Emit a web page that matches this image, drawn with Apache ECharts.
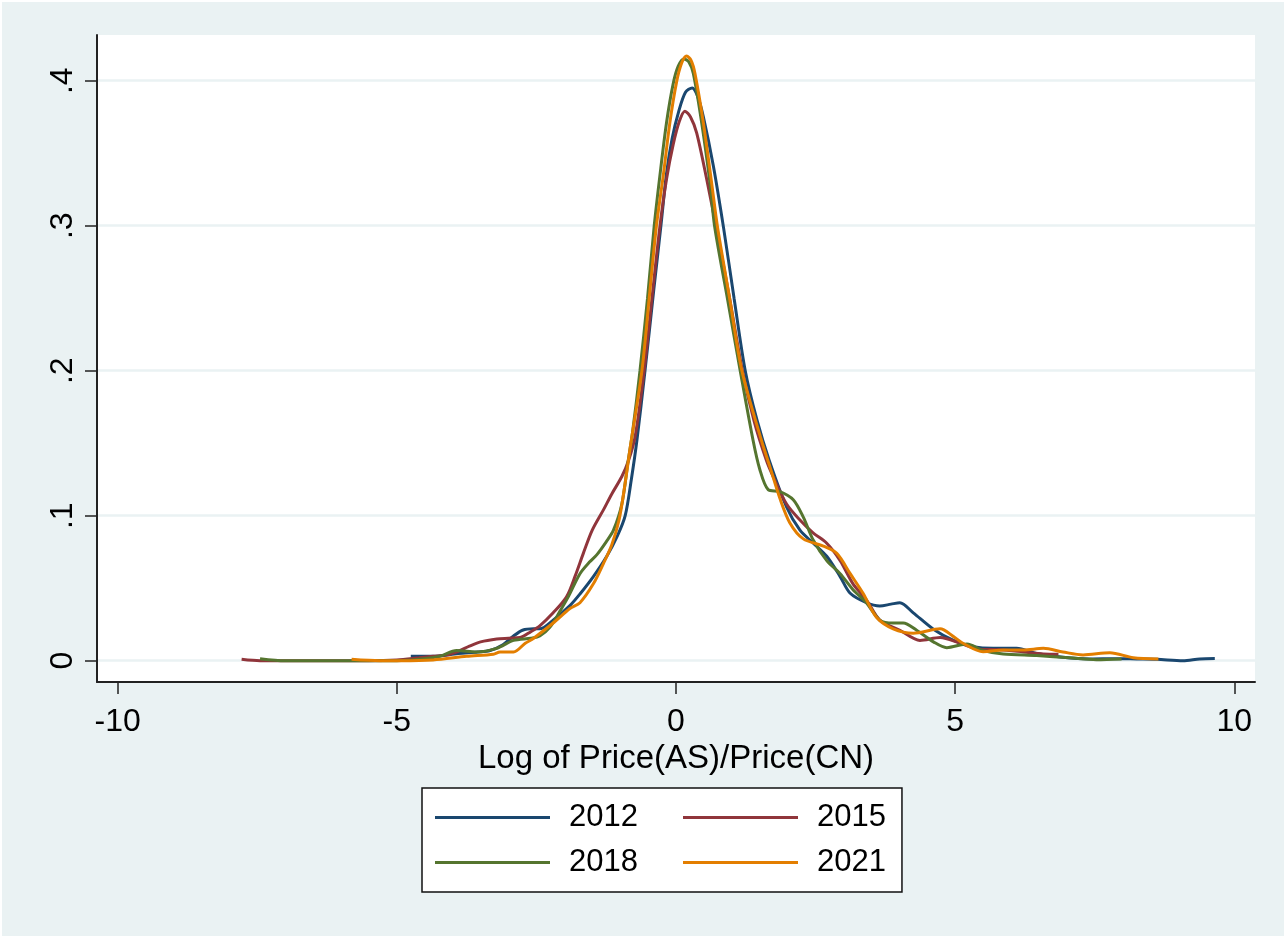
<!DOCTYPE html>
<html>
<head>
<meta charset="utf-8">
<script src="https://cdn.jsdelivr.net/npm/echarts@6/dist/echarts.min.js"></script>
<style>
html,body{margin:0;padding:0;background:#fff;}
#wrap{position:relative;width:1286px;height:938px;}
#chart{width:1286px;height:938px;}
#edge{position:absolute;left:0;top:0;width:1286px;height:938px;border:2px solid #fff;box-sizing:border-box;pointer-events:none;}
</style>
</head>
<body>
<div id="wrap"><div id="chart"></div><div id="edge"></div></div>
<script>
const years = ['2012', '2015', '2018', '2021'];
const xTicks = [-10, -5, 0, 5, 10];
const yTicks = [0, 0.1, 0.2, 0.3, 0.4];
const xTitle = 'Log of Price(AS)/Price(CN)';

const d2012 = [[-4.75,0.003],[-4.35,0.003],[-3.9,0.005],[-3.55,0.006],[-3.33,0.007],[-3.1,0.011],[-2.91,0.017],[-2.75,0.021],[-2.55,0.022],[-2.44,0.022],[-2.2,0.028],[-1.9,0.038],[-1.72,0.046],[-1.48,0.058],[-1.24,0.072],[-1.05,0.086],[-0.91,0.1],[-0.8,0.125],[-0.7,0.152],[-0.555,0.2],[-0.4,0.255],[-0.27,0.3],[-0.17,0.336],[-0.07,0.36],[0.05,0.379],[0.17,0.392],[0.29,0.395],[0.39,0.389],[0.49,0.375],[0.67,0.341],[0.85,0.299],[1.04,0.25],[1.24,0.2],[1.45,0.166],[1.67,0.138],[1.98,0.106],[2.22,0.09],[2.46,0.081],[2.7,0.072],[2.94,0.058],[3.12,0.0465],[3.41,0.04],[3.65,0.0377],[3.85,0.039],[4.01,0.04],[4.25,0.033],[4.61,0.0217],[4.97,0.014],[5.32,0.0097],[5.68,0.0085],[6.1,0.0085],[6.46,0.005],[6.93,0.0023],[7.41,0.0012],[7.89,0.0014],[8.25,0.0012],[8.61,0.001],[9.08,0.0],[9.38,0.0012],[9.65,0.0015]];

const d2015 = [[-7.78,0.001],[-7.45,0.0],[-7.0,0.0],[-6.5,0.0],[-6.0,0.0],[-5.5,0.0],[-5.0,0.0005],[-4.6,0.002],[-4.35,0.003],[-4.1,0.004],[-3.9,0.0065],[-3.7,0.01],[-3.5,0.013],[-3.21,0.015],[-3.0,0.0155],[-2.79,0.016],[-2.6,0.02],[-2.44,0.024],[-2.2,0.033],[-1.96,0.044],[-1.8,0.059],[-1.66,0.074],[-1.5,0.09],[-1.3,0.104],[-1.15,0.115],[-0.97,0.127],[-0.85,0.138],[-0.73,0.155],[-0.57,0.2],[-0.43,0.25],[-0.29,0.299],[-0.17,0.332],[-0.05,0.356],[0.06,0.372],[0.16,0.379],[0.26,0.375],[0.37,0.364],[0.55,0.332],[0.73,0.297],[0.96,0.25],[1.19,0.2],[1.4,0.165],[1.62,0.138],[1.74,0.127],[1.98,0.108],[2.22,0.097],[2.46,0.088],[2.7,0.081],[2.94,0.069],[3.17,0.053],[3.41,0.042],[3.65,0.028],[4.01,0.021],[4.37,0.014],[4.73,0.016],[5.09,0.012],[5.44,0.0079],[5.8,0.0075],[6.22,0.006],[6.58,0.0046],[6.85,0.0044]];

const d2018 = [[-7.45,0.0014],[-7.0,0.0],[-6.5,0.0],[-6.0,0.0],[-5.5,0.0],[-5.0,0.0],[-4.6,0.001],[-4.23,0.003],[-3.93,0.007],[-3.57,0.006],[-3.21,0.0085],[-2.91,0.014],[-2.6,0.0155],[-2.44,0.017],[-2.26,0.023],[-2.08,0.034],[-1.93,0.044],[-1.72,0.06],[-1.55,0.068],[-1.42,0.073],[-1.25,0.082],[-1.12,0.09],[-0.97,0.108],[-0.86,0.137],[-0.78,0.157],[-0.645,0.2],[-0.51,0.25],[-0.39,0.3],[-0.29,0.334],[-0.17,0.371],[-0.05,0.398],[0.04,0.41],[0.14,0.415],[0.23,0.413],[0.31,0.405],[0.46,0.371],[0.61,0.329],[0.69,0.3],[0.92,0.25],[1.15,0.2],[1.38,0.152],[1.5,0.132],[1.65,0.118],[1.86,0.1166],[2.1,0.111],[2.28,0.099],[2.46,0.083],[2.7,0.069],[2.94,0.06],[3.17,0.049],[3.41,0.04],[3.65,0.028],[3.89,0.026],[4.07,0.026],[4.31,0.021],[4.61,0.013],[4.85,0.009],[5.21,0.0115],[5.5,0.007],[5.86,0.0046],[6.46,0.0035],[7.05,0.002],[7.53,0.0007],[7.98,0.0012]];

const d2021 = [[-5.81,0.001],[-5.3,0.0],[-4.94,0.0],[-4.35,0.0005],[-3.75,0.003],[-3.27,0.0045],[-3.15,0.006],[-2.91,0.006],[-2.7,0.012],[-2.55,0.0155],[-2.2,0.026],[-1.9,0.036],[-1.72,0.04],[-1.48,0.053],[-1.3,0.067],[-1.15,0.08],[-1.02,0.097],[-0.92,0.12],[-0.82,0.147],[-0.61,0.2],[-0.48,0.25],[-0.35,0.3],[-0.23,0.334],[-0.11,0.371],[0.01,0.399],[0.1,0.412],[0.19,0.417],[0.27,0.414],[0.34,0.405],[0.49,0.371],[0.64,0.329],[0.74,0.3],[0.96,0.25],[1.18,0.2],[1.53,0.152],[1.68,0.134],[1.86,0.112],[2.04,0.095],[2.28,0.084],[2.64,0.079],[2.88,0.074],[3.12,0.06],[3.35,0.0465],[3.59,0.03],[3.89,0.022],[4.25,0.019],[4.73,0.022],[4.97,0.0166],[5.14,0.012],[5.5,0.0062],[5.86,0.0074],[6.22,0.0074],[6.58,0.0085],[6.93,0.006],[7.29,0.004],[7.77,0.0055],[8.19,0.002],[8.64,0.0012]];

const seriesData = [d2012, d2015, d2018, d2021];
const colors = ['#1a476f', '#90353b', '#55752f', '#e37e00'];
const FONT = '"Liberation Sans", Arial, sans-serif';

const chart = echarts.init(document.getElementById('chart'), null, {renderer: 'canvas'});
chart.setOption({
  backgroundColor: '#eaf2f3',
  animation: false,
  textStyle: {fontFamily: FONT, color: '#000'},
  grid: {left: 97, top: 35, width: 1158, height: 647, show: true, backgroundColor: '#ffffff', borderWidth: 0, containLabel: false},
  xAxis: {
    type: 'value', min: -10.37, max: 10.37,
    name: xTitle, nameLocation: 'middle', nameGap: 48,
    nameTextStyle: {fontSize: 33, color: '#000', fontFamily: FONT},
    axisLine: {show: true, onZero: false, lineStyle: {color: '#222', width: 2}},
    axisTick: {show: true, length: 12, customValues: xTicks, lineStyle: {color: '#222', width: 1.5}},
    axisLabel: {show: true, customValues: xTicks, margin: 24, fontSize: 32, color: '#000', fontFamily: FONT},
    splitLine: {show: false}
  },
  yAxis: {
    type: 'value', min: -0.0147, max: 0.4315,
    axisLine: {show: true, onZero: false, lineStyle: {color: '#222', width: 2}},
    axisTick: {show: true, length: 12, customValues: yTicks, lineStyle: {color: '#222', width: 1.5}},
    axisLabel: {show: true, customValues: yTicks, rotate: 90, margin: 18, fontSize: 32, color: '#000', fontFamily: FONT,
      formatter: v => v === 0 ? '0' : String(Math.round(v * 10) / 10).replace(/^0\./, '.')},
    splitLine: {show: true, lineStyle: {color: '#eaf2f3', width: 2.5}}
  },
  legend: {
    left: 422, top: 788, width: 520,
    orient: 'horizontal',
    padding: [12, 16, 12, 13],
    itemGap: 10,
    itemWidth: 115, itemHeight: 3,
    icon: 'rect',
    backgroundColor: '#ffffff',
    borderColor: '#111', borderWidth: 1.5, borderRadius: 0,
    textStyle: {fontSize: 31, color: '#000', fontFamily: FONT, lineHeight: 35, padding: [0, 0, 0, 14]},
    data: years.map((y, i) => ({name: y, textStyle: (i % 2 === 0) ? {width: 104} : {}}))
  },
  series: years.map((y, i) => ({
    name: y, type: 'line', data: seriesData[i],
    showSymbol: false, symbol: 'none',
    smooth: 0.3,
    lineStyle: {color: colors[i], width: 3},
    itemStyle: {color: colors[i]},
    z: 2 + i
  }))
});
</script>
</body>
</html>
